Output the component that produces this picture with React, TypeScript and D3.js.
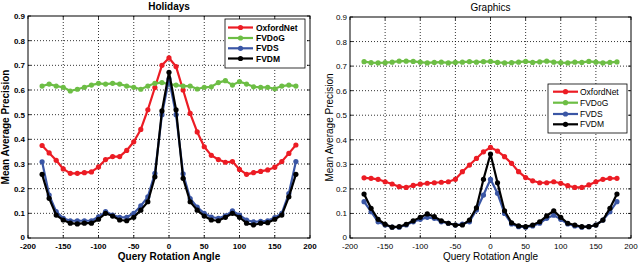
import React from "react";
import * as d3 from "d3";

const angles = [-180,-170,-160,-150,-140,-130,-120,-110,-100,-90,-80,-70,-60,-50,-40,-30,-20,-10,0,10,20,30,40,50,60,70,80,90,100,110,120,130,140,150,160,170,180];
const seriesNames = ["OxfordNet", "FVDoG", "FVDS", "FVDM"];
const seriesColors = ["#ec1c24", "#6dbe45", "#3a56a5", "#000000"];
const xTicks = [-200,-150,-100,-50,0,50,100,150,200];
const yTicks = [0,0.1,0.2,0.3,0.4,0.5,0.6,0.7,0.8,0.9];

const holidaysOxfordNet = [0.375,0.345,0.315,0.28,0.262,0.262,0.265,0.268,0.288,0.318,0.33,0.33,0.355,0.39,0.44,0.52,0.61,0.70,0.73,0.695,0.60,0.505,0.43,0.37,0.335,0.318,0.307,0.31,0.278,0.258,0.265,0.27,0.276,0.287,0.31,0.343,0.377];
const holidaysFVDoG = [0.616,0.624,0.616,0.611,0.596,0.603,0.611,0.62,0.627,0.624,0.627,0.624,0.616,0.611,0.603,0.616,0.627,0.63,0.624,0.62,0.616,0.616,0.604,0.611,0.613,0.63,0.638,0.62,0.634,0.624,0.613,0.611,0.611,0.605,0.616,0.62,0.616];
const holidaysFVDS = [0.309,0.174,0.107,0.08,0.07,0.07,0.07,0.07,0.086,0.107,0.093,0.084,0.084,0.1,0.13,0.167,0.262,0.5,0.645,0.5,0.26,0.16,0.125,0.1,0.085,0.08,0.09,0.11,0.093,0.073,0.065,0.068,0.07,0.083,0.1,0.18,0.31];
const holidaysFVDM = [0.258,0.161,0.093,0.073,0.06,0.057,0.06,0.06,0.076,0.1,0.089,0.073,0.07,0.084,0.113,0.147,0.248,0.515,0.672,0.52,0.242,0.147,0.113,0.089,0.073,0.07,0.084,0.1,0.084,0.06,0.053,0.06,0.062,0.076,0.093,0.167,0.258];

const graphicsOxfordNet = [0.245,0.243,0.239,0.229,0.22,0.209,0.206,0.214,0.219,0.223,0.225,0.227,0.229,0.239,0.27,0.297,0.324,0.351,0.369,0.354,0.331,0.304,0.27,0.246,0.233,0.225,0.225,0.229,0.223,0.213,0.206,0.206,0.216,0.229,0.239,0.243,0.243];
const graphicsFVDoG = [0.718,0.714,0.713,0.714,0.716,0.72,0.72,0.719,0.716,0.713,0.715,0.716,0.713,0.715,0.716,0.718,0.716,0.718,0.719,0.715,0.713,0.714,0.716,0.719,0.715,0.717,0.72,0.716,0.714,0.713,0.716,0.715,0.719,0.716,0.713,0.715,0.717];
const graphicsFVDS = [0.148,0.107,0.066,0.053,0.044,0.044,0.053,0.066,0.076,0.084,0.08,0.066,0.06,0.053,0.057,0.066,0.114,0.175,0.239,0.182,0.1,0.057,0.046,0.044,0.049,0.06,0.08,0.093,0.076,0.057,0.049,0.044,0.046,0.053,0.073,0.107,0.148];
const graphicsFVDM = [0.179,0.121,0.076,0.056,0.044,0.046,0.056,0.07,0.084,0.098,0.087,0.07,0.06,0.053,0.053,0.073,0.123,0.239,0.342,0.225,0.111,0.062,0.049,0.046,0.053,0.066,0.09,0.111,0.084,0.06,0.053,0.046,0.046,0.053,0.073,0.121,0.179];

const FONT = "'Liberation Sans', Arial, Helvetica, sans-serif";

type PanelProps = {
  title: string;
  bold: boolean;
  left: number; right: number; top: number; bottom: number;
  series: number[][];
  legend: { x0: number; y0: number; x1: number; y1: number; rows: number[]; lineX0: number; lineX1: number; textX: number };
  yLabelX: number;
};

function Panel(p: PanelProps) {
  const x = d3.scaleLinear().domain([-200, 200]).range([p.left, p.right]);
  const y = d3.scaleLinear().domain([0, 0.9]).range([p.bottom, p.top]);
  const line = d3.line<number>().x((_, i) => x(angles[i])).y((d) => y(d));
  const fw = p.bold ? "bold" : "normal";
  const cx = (p.left + p.right) / 2;
  const tl = 3;
  return (
    <g fontFamily={FONT}>
      {xTicks.slice(1, -1).map((t) => (
        <line key={"gx" + t} x1={x(t)} x2={x(t)} y1={p.top} y2={p.bottom} stroke="#000" strokeWidth={0.8} strokeDasharray="1,2" />
      ))}
      {yTicks.slice(1, -1).map((t) => (
        <line key={"gy" + t} x1={p.left} x2={p.right} y1={y(t)} y2={y(t)} stroke="#000" strokeWidth={0.8} strokeDasharray="1,2" />
      ))}
      {xTicks.map((t) => (
        <g key={"tx" + t}>
          <line x1={x(t)} x2={x(t)} y1={p.bottom} y2={p.bottom - tl} stroke="#000" strokeWidth={0.8} />
          <line x1={x(t)} x2={x(t)} y1={p.top} y2={p.top + tl} stroke="#000" strokeWidth={0.8} />
          <text x={x(t)} y={p.bottom + 11} fontSize={8} fontWeight={fw} textAnchor="middle">{String(t)}</text>
        </g>
      ))}
      {yTicks.map((t) => (
        <g key={"ty" + t}>
          <line x1={p.left} x2={p.left + tl} y1={y(t)} y2={y(t)} stroke="#000" strokeWidth={0.8} />
          <line x1={p.right} x2={p.right - tl} y1={y(t)} y2={y(t)} stroke="#000" strokeWidth={0.8} />
          <text x={p.left - 3} y={y(t) + (t === 0 ? 1.5 : 3)} fontSize={8} fontWeight={fw} textAnchor="end">{t === 0 ? "0" : t.toFixed(1)}</text>
        </g>
      ))}
      {p.series.map((s, k) => (
        <g key={"s" + k}>
          <path d={line(s) || ""} fill="none" stroke={seriesColors[k]} strokeWidth={2.2} strokeLinejoin="round" />
          {s.map((v, i) => (
            <circle key={i} cx={x(angles[i])} cy={y(v)} r={2.6} fill={seriesColors[k]} />
          ))}
        </g>
      ))}
      <rect x={p.left} y={p.top} width={p.right - p.left} height={p.bottom - p.top} fill="none" stroke="#000" strokeWidth={1} />
      <text x={cx} y={p.top - 6} fontSize={10} fontWeight={fw} textAnchor="middle">{p.title}</text>
      <text x={cx} y={p.bottom + 22} fontSize={10} fontWeight={fw} textAnchor="middle">Query Rotation Angle</text>
      <text transform={`translate(${p.yLabelX},${(p.top + p.bottom) / 2}) rotate(-90)`} fontSize={10} fontWeight={fw} textAnchor="middle">Mean Average Precision</text>
      <rect x={p.legend.x0} y={p.legend.y0} width={p.legend.x1 - p.legend.x0} height={p.legend.y1 - p.legend.y0} fill="#fff" stroke="#000" strokeWidth={0.8} />
      {seriesNames.map((n, k) => (
        <g key={"l" + n}>
          <line x1={p.legend.lineX0} x2={p.legend.lineX1} y1={p.legend.rows[k]} y2={p.legend.rows[k]} stroke={seriesColors[k]} strokeWidth={2.2} />
          <circle cx={(p.legend.lineX0 + p.legend.lineX1) / 2} cy={p.legend.rows[k]} r={2.6} fill={seriesColors[k]} />
          <text x={p.legend.textX} y={p.legend.rows[k] + 3} fontSize={8.5} fontWeight={fw}>{n}</text>
        </g>
      ))}
    </g>
  );
}

export default function App() {
  return (
    <svg width={638} height={262} style={{ position: "absolute", left: 0, top: 0, background: "#fff" }}>
      <rect width={638} height={262} fill="#fff" />
      <Panel
        title="Holidays" bold={true}
        left={28} right={310} top={16} bottom={238}
        series={[holidaysOxfordNet, holidaysFVDoG, holidaysFVDS, holidaysFVDM]}
        legend={{ x0: 225, y0: 19, x1: 305, y1: 68, rows: [27.5, 38, 48.3, 58.5], lineX0: 228, lineX1: 253, textX: 256 }}
        yLabelX={9}
      />
      <Panel
        title="Graphics" bold={false}
        left={350} right={631} top={17} bottom={238}
        series={[graphicsOxfordNet, graphicsFVDoG, graphicsFVDS, graphicsFVDM]}
        legend={{ x0: 548, y0: 84, x1: 627, y1: 133, rows: [91.7, 102.7, 114, 124.3], lineX0: 553, lineX1: 578, textX: 580 }}
        yLabelX={333}
      />
    </svg>
  );
}
